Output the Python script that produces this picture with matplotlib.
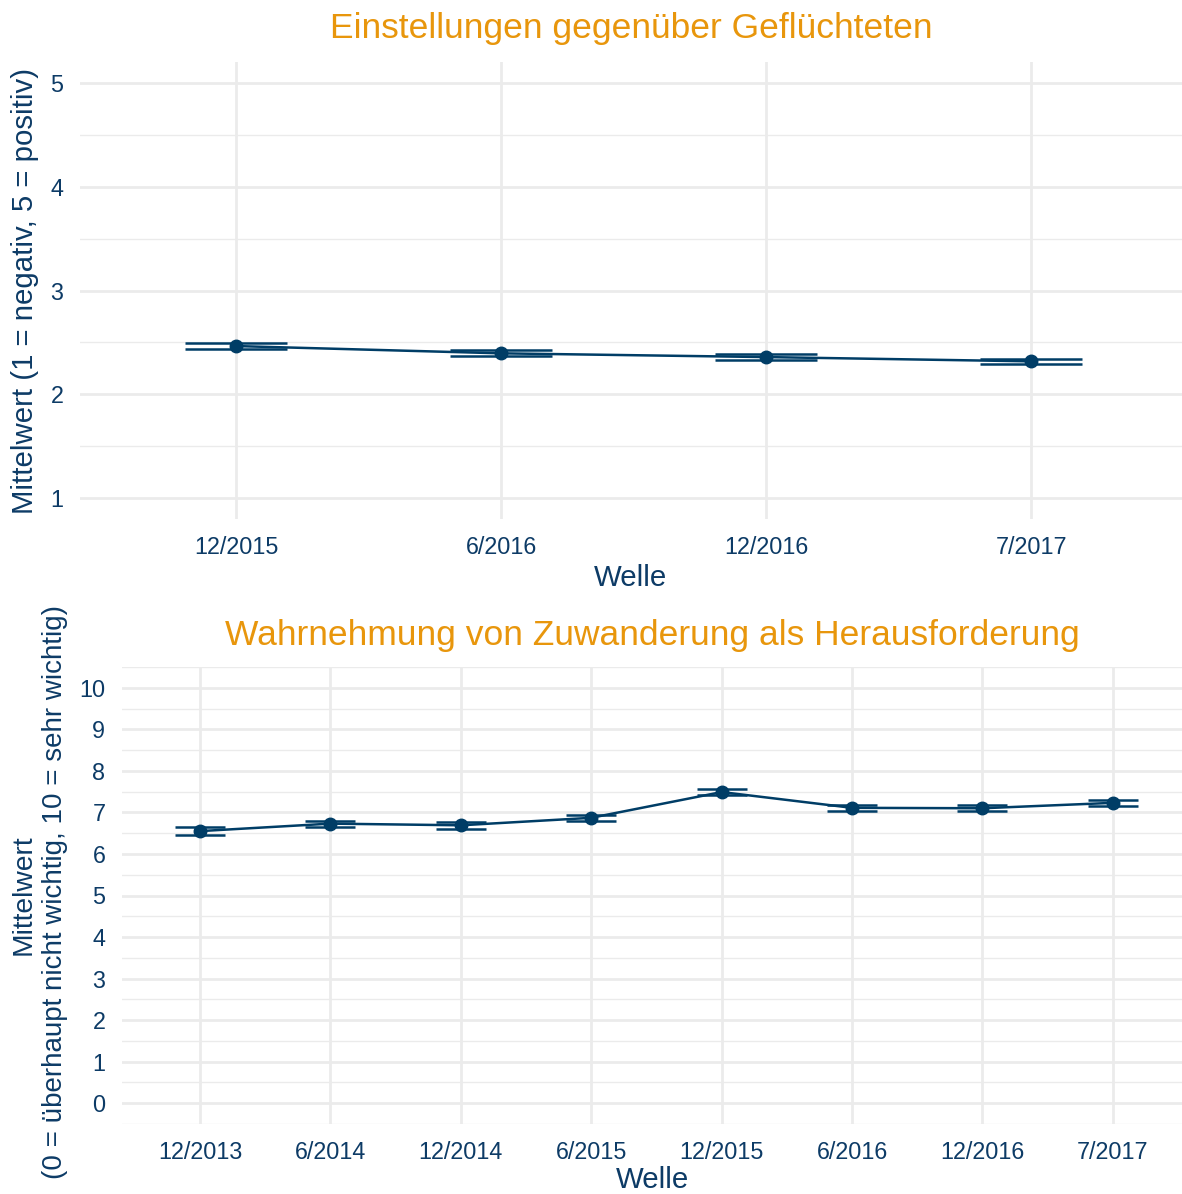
import matplotlib.pyplot as plt
import numpy as np

plt.rcParams['font.family'] = ['Liberation Sans', 'DejaVu Sans']

# top panel data
waves_top = ['12/2015', '6/2016', '12/2016', '7/2017']
mean_top = [2.465, 2.395, 2.359, 2.318]
err_top = [0.026, 0.03, 0.029, 0.025]

# bottom panel data
waves_bot = ['12/2013', '6/2014', '12/2014', '6/2015', '12/2015', '6/2016', '12/2016', '7/2017']
mean_bot = [6.55, 6.73, 6.69, 6.87, 7.49, 7.11, 7.10, 7.23]
err_bot = [0.09, 0.07, 0.08, 0.07, 0.07, 0.07, 0.07, 0.07]

navy = '#003d66'
txt = '#0d3b66'
orange = '#e8960c'
grid = '#ebebeb'

W, H = 1182, 1194
fig = plt.figure(figsize=(W / 100, H / 100), dpi=100)

def px_axes(l, t, r, b):
    return fig.add_axes([l / W, 1 - b / H, (r - l) / W, (b - t) / H])

def style(ax, yticks, yminor):
    for s in ax.spines.values():
        s.set_visible(False)
    ax.set_yticks(yticks)
    ax.set_yticks(yminor, minor=True)
    ax.grid(True, which='major', color=grid, lw=2)
    ax.grid(True, which='minor', axis='y', color=grid, lw=1)
    ax.set_axisbelow(True)
    ax.tick_params(which='both', length=0, labelsize=16.8, colors=txt, pad=12)

# top
ax1 = px_axes(80, 62, 1182, 519)
x1 = np.arange(1, len(waves_top) + 1)
ax1.plot(x1, mean_top, color=navy, lw=1.8)
ax1.errorbar(x1, mean_top, yerr=err_top, fmt='none', ecolor=navy, elinewidth=1.8,
             capsize=37, capthick=1.8)
ax1.plot(x1, mean_top, 'o', color=navy, ms=9)
ax1.set_xlim(0.41, 4.57)
ax1.set_ylim(0.8, 5.2)
ax1.set_xticks(x1)
ax1.set_xticklabels(waves_top)
style(ax1, [1, 2, 3, 4, 5], [1.5, 2.5, 3.5, 4.5])
ax1.set_xlabel('Welle', fontsize=21.2, color=txt, labelpad=4)
ax1.set_ylabel('Mittelwert (1 = negativ, 5 = positiv)', fontsize=21.2, color=txt, labelpad=8)
ax1.set_title('Einstellungen gegenüber Geflüchteten', fontsize=25.5, color=orange, pad=17)

# bottom
ax2 = px_axes(122, 667, 1182, 1124)
x2 = np.arange(1, len(waves_bot) + 1)
ax2.plot(x2, mean_bot, color=navy, lw=1.8)
ax2.errorbar(x2, mean_bot, yerr=err_bot, fmt='none', ecolor=navy, elinewidth=1.8,
             capsize=18, capthick=1.8)
ax2.plot(x2, mean_bot, 'o', color=navy, ms=9)
ax2.set_xlim(0.402, 8.53)
ax2.set_ylim(-0.5, 10.5)
ax2.set_xticks(x2)
ax2.set_xticklabels(waves_bot)
style(ax2, list(range(0, 11)), [v + 0.5 for v in range(-1, 11)])
ax2.set_xlabel('Welle', fontsize=21.2, color=txt, labelpad=2)
# two-line y label placed by hand
fig.text(24 / W, 1 - 895 / H, 'Mittelwert', rotation=90, ha='center', va='center',
         fontsize=20.3, color=txt)
fig.text(55 / W, 1 - 892 / H, '(0 = überhaupt nicht wichtig, 10 = sehr wichtig)', rotation=90,
         ha='center', va='center', fontsize=20, color=txt)
ax2.set_title('Wahrnehmung von Zuwanderung als Herausforderung', fontsize=25.5, color=orange, pad=16)

fig.savefig('out.png', dpi=100)
